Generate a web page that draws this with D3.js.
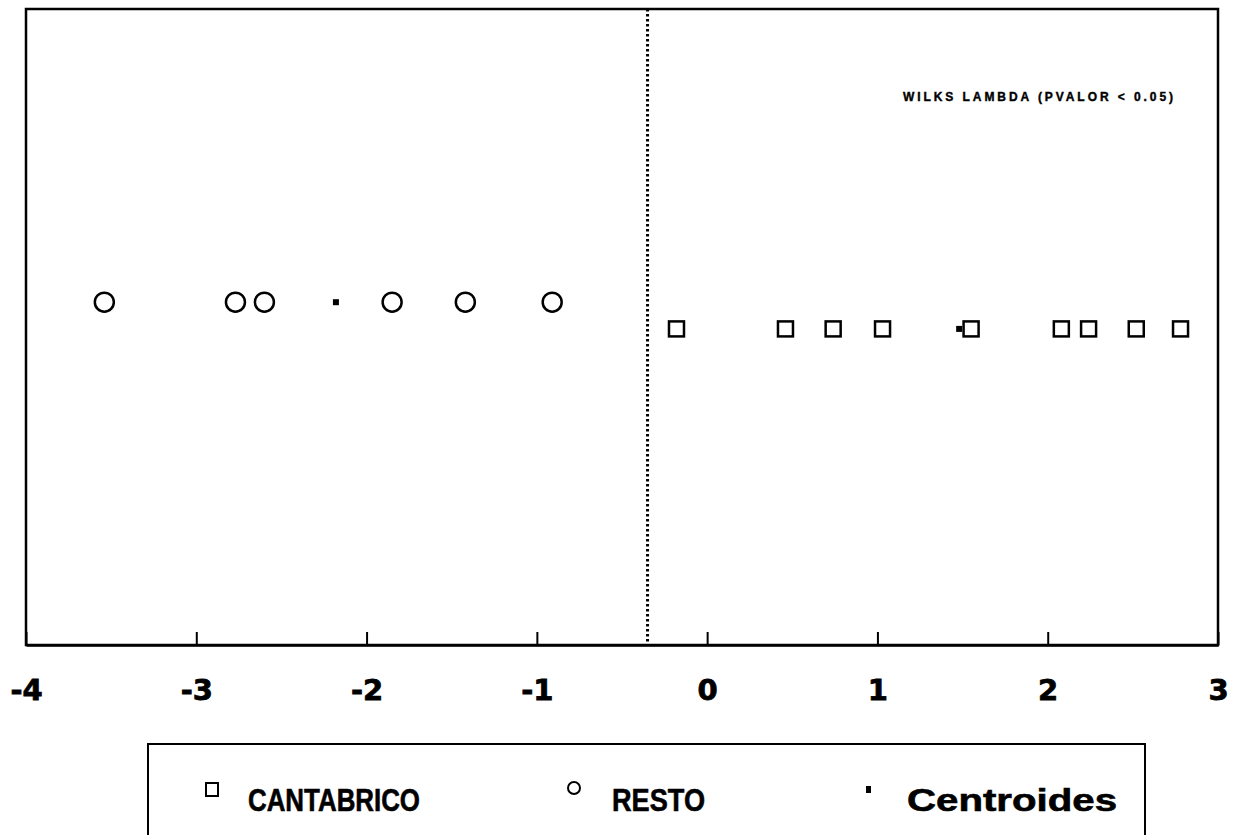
<!DOCTYPE html>
<html>
<head>
<meta charset="utf-8">
<script src="https://cdn.jsdelivr.net/npm/d3@7"></script>
<style>
  html, body { margin: 0; padding: 0; background: #fff; }
  svg { display: block; }
</style>
</head>
<body>
<script>
const [W, H] = [1239, 835];
const FRAME = { left: 26, top: 9, right: 1218, bottom: 645 };

// discriminant scores
const RESTO = [-3.54, -2.77, -2.60, -1.85, -1.42, -0.91];
const CANTABRICO = [-0.18, 0.46, 0.74, 1.03, 1.55, 2.08, 2.24, 2.52, 2.78];
const CENTROIDS = [-2.18, 1.48];
const GROUP_Y = [0.539, 0.497]; // RESTO row, CANTABRICO row
const CUTOFF = -0.35;
const X_TICKS = [-4, -3, -2, -1, 0, 1, 2, 3];
const LEGEND = ['CANTABRICO', 'RESTO', 'Centroides'];
const NOTE = 'WILKS LAMBDA (PVALOR < 0.05)';

const svg = d3.select('body').append('svg').attr('width', W).attr('height', H);

const x = d3.scaleLinear().domain([-4, 3]).range([FRAME.left, FRAME.right]);
const y = d3.scaleLinear().domain([0, 1]).range([FRAME.bottom, FRAME.top]);

// frame
svg.append('rect')
    .attr('x', FRAME.left).attr('y', FRAME.top)
    .attr('width', FRAME.right - FRAME.left)
    .attr('height', FRAME.bottom - FRAME.top)
    .attr('fill', 'none').attr('stroke', '#000').attr('stroke-width', 2.5);

// x axis, ticks pointing up into the plot
const xAxis = d3.axisBottom(x)
    .tickValues(X_TICKS)
    .tickSize(-13)
    .tickSizeOuter(0)
    .tickPadding(34)
    .tickFormat(d => d < 0 ? '-' + Math.abs(d) : '' + d);

const gx = svg.append('g')
    .attr('transform', 'translate(0,' + FRAME.bottom + ')')
    .call(xAxis);
gx.select('.domain').attr('stroke-width', 2.5);
gx.selectAll('.tick line').attr('stroke-width', 2);
gx.selectAll('.tick text')
    .attr('dy', '0.71em')
    .style('font-family', '"DejaVu Sans", sans-serif')
    .style('font-weight', 'bold')
    .style('font-size', '29px')
    .attr('fill', '#000')
    .attr('stroke', '#000')
    .attr('stroke-width', 0.8);

// cutoff line
svg.append('line')
    .attr('x1', x(CUTOFF)).attr('x2', x(CUTOFF))
    .attr('y1', FRAME.top).attr('y2', FRAME.bottom)
    .attr('stroke', '#000').attr('stroke-width', 3)
    .attr('stroke-dasharray', '2.5,2.5');

// note
svg.append('text')
    .attr('x', 903).attr('y', 101)
    .attr('textLength', 270).attr('lengthAdjust', 'spacing')
    .style('font-family', '"Liberation Sans", Arial, sans-serif')
    .style('font-weight', 'bold')
    .style('font-size', '12px')
    .attr('stroke', '#000').attr('stroke-width', 0.4)
    .text(NOTE);

// RESTO circles
svg.selectAll('circle.resto')
    .data(RESTO)
    .enter().append('circle')
    .attr('class', 'resto')
    .attr('cx', d => x(d))
    .attr('cy', y(GROUP_Y[0]))
    .attr('r', 9.5)
    .attr('fill', 'none').attr('stroke', '#000').attr('stroke-width', 2.5);

// CANTABRICO squares
const SQ = 15;
svg.selectAll('rect.cant')
    .data(CANTABRICO)
    .enter().append('rect')
    .attr('class', 'cant')
    .attr('x', d => x(d) - SQ / 2)
    .attr('y', y(GROUP_Y[1]) - SQ / 2)
    .attr('width', SQ).attr('height', SQ)
    .attr('fill', 'none').attr('stroke', '#000').attr('stroke-width', 2.5);

// centroids
svg.selectAll('rect.centroid')
    .data(CENTROIDS)
    .enter().append('rect')
    .attr('class', 'centroid')
    .attr('x', d => x(d) - 3)
    .attr('y', (d, i) => y(GROUP_Y[i]) - 3)
    .attr('width', 6).attr('height', 6)
    .attr('fill', '#000');

// legend
const legend = svg.append('g');
legend.append('rect')
    .attr('x', 148).attr('y', 744)
    .attr('width', 997).attr('height', 120)
    .attr('fill', 'none').attr('stroke', '#000').attr('stroke-width', 2);

legend.append('rect')
    .attr('x', 206).attr('y', 783).attr('width', 12).attr('height', 13)
    .attr('fill', 'none').attr('stroke', '#000').attr('stroke-width', 2);
legend.append('circle')
    .attr('cx', 574).attr('cy', 788).attr('r', 6)
    .attr('fill', 'none').attr('stroke', '#000').attr('stroke-width', 2);
legend.append('rect')
    .attr('x', 866).attr('y', 786).attr('width', 5).attr('height', 7)
    .attr('fill', '#000');

legend.selectAll('text')
    .data(LEGEND)
    .enter().append('text')
    .attr('x', (d, i) => [248, 612, 907][i])
    .attr('y', 811)
    .attr('textLength', (d, i) => [172, 93, 210][i])
    .attr('lengthAdjust', 'spacingAndGlyphs')
    .style('font-family', '"Liberation Sans", Arial, sans-serif')
    .style('font-weight', 'bold')
    .style('font-size', '32px')
    .attr('stroke', '#000').attr('stroke-width', 0.6)
    .text(d => d);
</script>
</body>
</html>
